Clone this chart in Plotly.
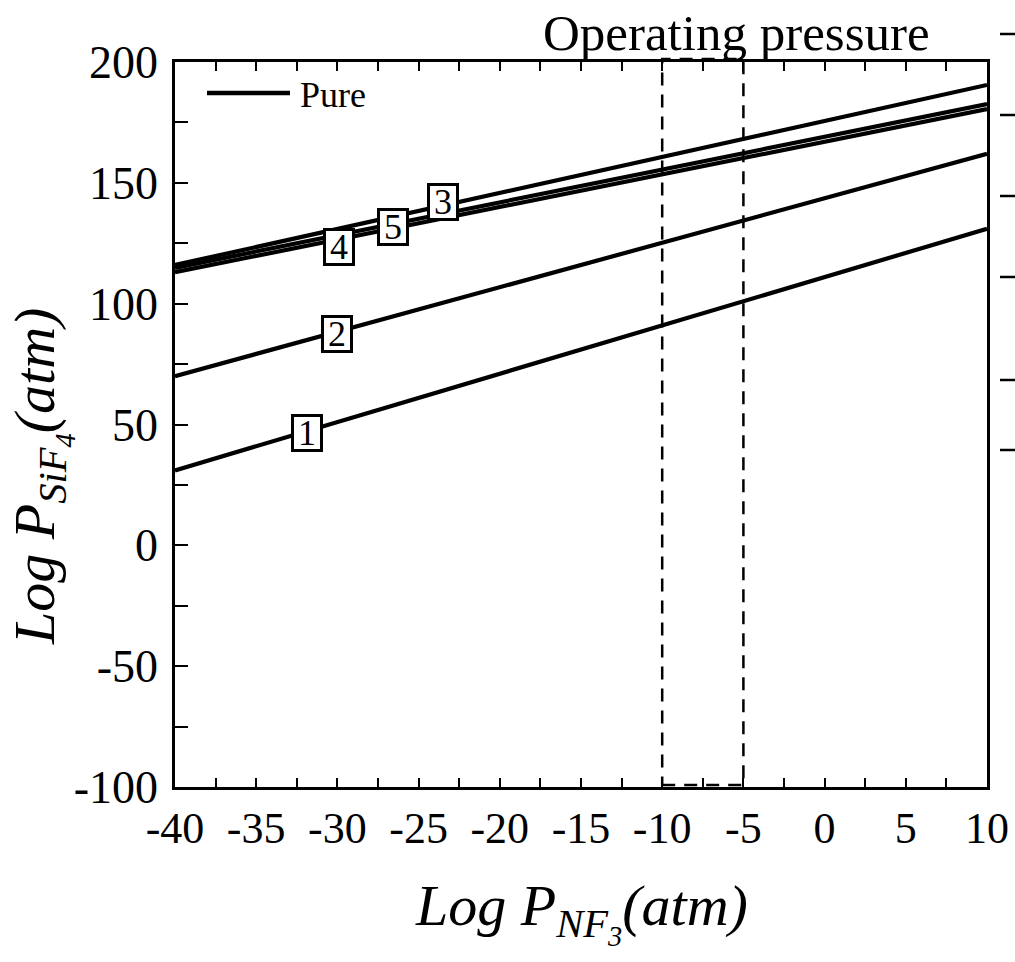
import plotly.graph_objects as go

# ---- data ----
x_ends = [-40, 10]
line1 = [31.0, 131.0]
line2 = [70.0, 162.0]
line3 = [116.0, 190.5]
line4 = [113.0, 180.5]
line5 = [114.8, 182.6]
series = [("1", line1), ("2", line2), ("3", line3), ("4", line4), ("5", line5)]
label_x = {"1": -31.9, "2": -30.0, "3": -23.5, "4": -29.9, "5": -26.6}
label_shift = {"1": -2, "2": -2, "3": 4, "4": -8, "5": -3}
x_ticks = [-40, -35, -30, -25, -20, -15, -10, -5, 0, 5, 10]
x_tick_text = ["-40", "-35", "-30", "-25", "-20", "-15", "-10", "-5", "0", "5", "10"]
y_ticks = [-100, -50, 0, 50, 100, 150, 200]
y_tick_text = ["-100", "-50", "0", "50", "100", "150", "200"]
op_range = [-10, -5]

FONT = "Liberation Serif, Times New Roman, serif"
ML, MR, MT, MB = 175, 28, 62, 175
PW, PH = 1015 - ML - MR, 962 - MT - MB

def px_x(p):
    return (p - ML) / PW

def px_y(p):
    return (962 - MB - p) / PH

fig = go.Figure()
for name, ys in series:
    fig.add_trace(go.Scatter(x=x_ends, y=ys, mode="lines", name=name,
                             line=dict(color="black", width=4.2), showlegend=False))

def interp(ys, x):
    return ys[0] + (x - x_ends[0]) / (x_ends[1] - x_ends[0]) * (ys[1] - ys[0])

for name, ys in series:
    fig.add_annotation(x=label_x[name], y=interp(ys, label_x[name]), text=name,
                       showarrow=False, yshift=label_shift[name],
                       font=dict(family=FONT, size=36, color="black"),
                       bgcolor="white", bordercolor="black", borderwidth=3,
                       borderpad=0, width=26, height=32)

# operating pressure dashed box (vertical extent in paper coords so the edges are not clipped)
fig.add_shape(type="rect", xref="x", yref="paper", x0=op_range[0], x1=op_range[1],
              y0=px_y(785), y1=px_y(59), line=dict(color="black", width=2.5, dash="13px,9px"),
              layer="above")
fig.add_annotation(xref="paper", yref="paper", x=px_x(736), y=px_y(33), text="Operating pressure",
                   showarrow=False, xanchor="center", yanchor="middle",
                   font=dict(family=FONT, size=51, color="black"))

# legend (drawn manually)
fig.add_shape(type="line", xref="paper", yref="paper", x0=px_x(207), x1=px_x(290),
              y0=px_y(93), y1=px_y(93), line=dict(color="black", width=4.5))
fig.add_annotation(xref="paper", yref="paper", x=px_x(298), y=px_y(95), text="Pure", showarrow=False,
                   xanchor="left", yanchor="middle", font=dict(family=FONT, size=36, color="black"))

# axis titles
fig.add_annotation(xref="paper", yref="paper", x=px_x(581), y=px_y(912),
                   text="<i>Log P<sub>NF<sub>3</sub></sub>(atm)</i>", showarrow=False,
                   xanchor="center", yanchor="middle", font=dict(family=FONT, size=58, color="black"))
fig.add_annotation(xref="paper", yref="paper", x=px_x(41), y=px_y(477), textangle=-90,
                   text="<i>Log P<sub>SiF<sub>4</sub></sub>(atm)</i>", showarrow=False,
                   xanchor="center", yanchor="middle", font=dict(family=FONT, size=58, color="black"))

# stray tick marks on the right edge of the reference image
for p in [34, 115, 196, 277, 380, 450]:
    fig.add_shape(type="line", xref="paper", yref="paper", x0=px_x(1000), x1=px_x(1015),
                  y0=px_y(p), y1=px_y(p), line=dict(color="black", width=2.5))

fig.update_xaxes(range=[-40, 10], tickvals=x_ticks, ticktext=x_tick_text, ticks="inside",
                 ticklen=9, tickwidth=1.5, tickcolor="black", showline=True, linecolor="black",
                 linewidth=2.5, mirror="allticks", showgrid=False, zeroline=False, automargin=False,
                 minor=dict(dtick=2.5, ticks="inside", ticklen=9, tickwidth=1.5, tickcolor="black"),
                 tickfont=dict(family=FONT, size=44, color="black"))
fig.update_yaxes(range=[-100, 200], tickvals=y_ticks, ticktext=y_tick_text, ticks="inside",
                 ticklen=13, tickwidth=1.5, tickcolor="black", showline=True, linecolor="black",
                 linewidth=2.5, mirror=True, showgrid=False, zeroline=False, automargin=False,
                 minor=dict(dtick=25, ticks="inside", ticklen=13, tickwidth=1.5, tickcolor="black"),
                 ticklabelstandoff=5,
                 tickfont=dict(family=FONT, size=46, color="black"))

fig.update_layout(width=1015, height=962, plot_bgcolor="white", paper_bgcolor="white",
                  margin=dict(l=ML, r=MR, t=MT, b=MB, autoexpand=False), showlegend=False)
fig.write_html("out.html")
